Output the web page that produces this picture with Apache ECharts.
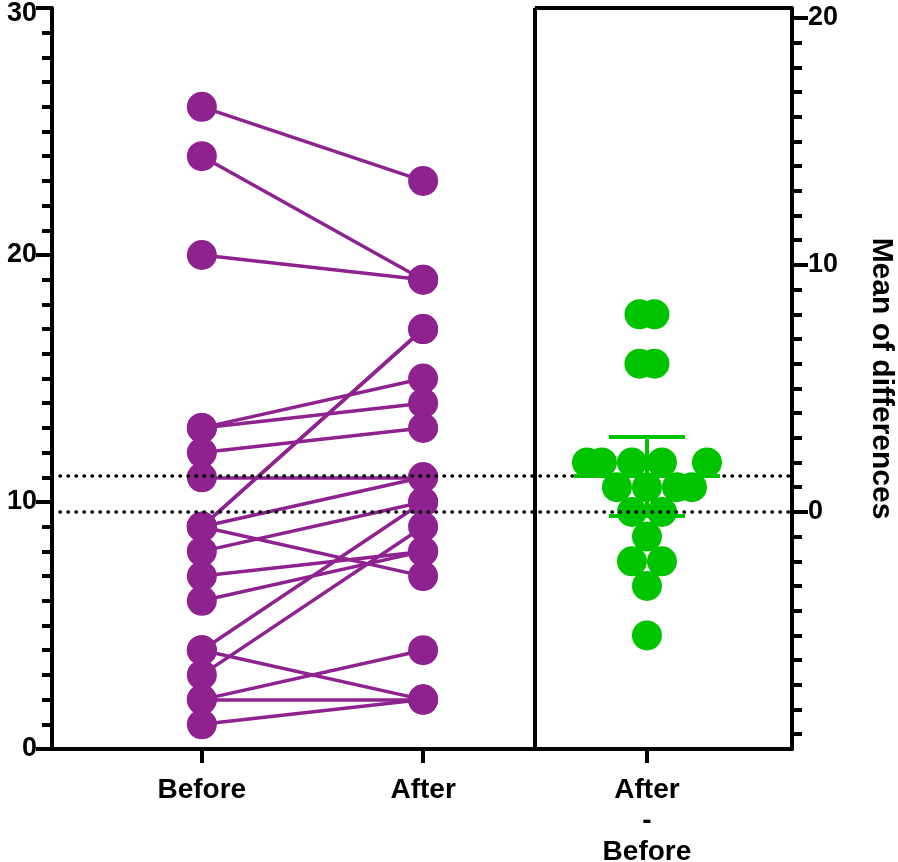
<!DOCTYPE html>
<html>
<head>
<meta charset="utf-8">
<script src="https://cdn.jsdelivr.net/npm/echarts@6/dist/echarts.min.js"></script>
<style>
  html, body { margin: 0; padding: 0; background: #fff; }
  #main { width: 898px; height: 862px; }
</style>
</head>
<body>
<div id="main"></div>
<script>
// data (one entry per subject, paired)
var categories = ['Before', 'After', 'After\n-\nBefore'];
var before = [26, 24, 20, 13, 13, 12, 11, 9, 9, 9, 9, 8, 7, 6, 4, 4, 3, 2, 2, 1];
var after  = [23, 19, 19, 15, 14, 13, 11, 17, 17, 11, 7, 10, 8, 8, 10, 2, 9, 4, 2, 2];
var leftTicks = [0, 10, 20, 30];
var rightTicks = [0, 10, 20];

// layout
var W = 898, H = 862;
var G = { left: 52, right: 106, top: 8, bottom: 113 };
var X_MAX = 20;
var xSlots = [4.05, 10.03, 16.08];   // Before, After, After-Before
var xDivider = 13.05;
var purple = '#8e228f';
var green = '#00c400';
var font = 'Liberation Sans';

// statistics
function mean(a) { return a.reduce(function (s, v) { return s + v; }, 0) / a.length; }
var diffs = after.map(function (v, i) { return v - before[i]; });
var meanBefore = mean(before);
var meanAfter = mean(after);
var meanDiff = mean(diffs);
var sd = Math.sqrt(diffs.reduce(function (s, v) { return s + (v - meanDiff) * (v - meanDiff); }, 0) / (diffs.length - 1));
var T_CRIT = 2.093; // t(0.975, df=19)
var half = T_CRIT * sd / Math.sqrt(diffs.length);
var ciLo = meanDiff - half, ciHi = meanDiff + half;

// simple beeswarm for the differences (pixel distances)
var pxX = (W - G.left - G.right) / X_MAX;
var pxY = (H - G.top - G.bottom) / 30;
function swarm(vals) {
  var S = 15, D = 28, step = 7.5;
  var placed = [];
  var groups = {};
  vals.forEach(function (v) { groups[v] = (groups[v] || 0) + 1; });
  var keys = Object.keys(groups).map(Number).sort(function (a, b) { return a - b; });
  function ok(x, v, mine) {
    for (var i = 0; i < placed.length; i++) {
      var p = placed[i];
      if (p.v === v) continue;
      var dx = x - p.x, dy = (v - p.v) * pxY;
      if (dx * dx + dy * dy < D * D) return false;
    }
    for (var j = 0; j < mine.length; j++) if (Math.abs(mine[j] - x) < S - 0.01) return false;
    return true;
  }
  keys.forEach(function (v) {
    var k = groups[v], mine = [];
    var sym = [];
    for (var j = 0; j < k; j++) sym.push((j - (k - 1) / 2) * S);
    var symOk = sym.every(function (x) { return ok(x, v, []); });
    if (symOk) {
      mine = sym;
    } else {
      for (var n = 0; mine.length < k && n < 60; n++) {
        var c = n === 0 ? 0 : (n % 2 ? 1 : -1) * Math.ceil(n / 2) * step;
        if (ok(c, v, mine)) mine.push(c);
      }
    }
    mine.forEach(function (x) { placed.push({ x: x, v: v }); });
  });
  var used = {};
  return vals.map(function (v) {
    var list = placed.filter(function (p) { return p.v === v; });
    used[v] = (used[v] || 0);
    var p = list[used[v]++];
    return [xSlots[2] + p.x / pxX, v];
  });
}

var chart = echarts.init(document.getElementById('main'));

var axisLine = { show: true, onZero: false, lineStyle: { color: '#000', width: 4 } };
var labelStyle = { color: '#000', fontFamily: font, fontWeight: 'bold', fontSize: 28 };
var tickStyle = { color: '#000', width: 4 };

var pairLines = before.map(function (b, i) {
  return { coords: [[xSlots[0], b], [xSlots[1], after[i]]] };
});
var purpleDots = before.map(function (v) { return [xSlots[0], v]; })
  .concat(after.map(function (v) { return [xSlots[1], v]; }));

var capW = 38 / pxX, meanW = 73 / pxX;

chart.setOption({
  animation: false,
  grid: { left: G.left, right: G.right, top: G.top, bottom: G.bottom, outerBoundsMode: 'none', containLabel: false },
  xAxis: [{
    type: 'value', min: 0, max: X_MAX,
    axisLine: axisLine,
    axisTick: { show: true, customValues: xSlots, length: 14, lineStyle: tickStyle },
    axisLabel: Object.assign({
      customValues: xSlots, margin: 26, lineHeight: 31,
      formatter: function (v) { return categories[xSlots.indexOf(v)] || ''; }
    }, labelStyle),
    splitLine: { show: false }
  }],
  yAxis: [{
    type: 'value', position: 'left', min: 0, max: 30, interval: 10,
    axisLine: axisLine,
    axisTick: { show: true, length: 16, lineStyle: tickStyle },
    minorTick: { show: true, splitNumber: 10, length: 10, lineStyle: tickStyle },
    axisLabel: Object.assign({
      margin: 15, customValues: leftTicks,
      formatter: function (v) { return v === 30 ? '{top|30}' : String(v); },
      rich: { top: { fontFamily: font, fontWeight: 'bold', fontSize: 27, color: '#000', padding: [12, 0, 0, 0] } }
    }, labelStyle, { fontSize: 27 }),
    splitLine: { show: false }
  }, {
    type: 'value', position: 'right', min: -meanBefore, max: 30 - meanBefore, splitNumber: 3,
    axisLine: axisLine,
    axisTick: { show: true, customValues: rightTicks, length: 16, lineStyle: tickStyle },
    minorTick: { show: true, splitNumber: 10, length: 10, lineStyle: tickStyle },
    axisLabel: Object.assign({ margin: 16, customValues: rightTicks }, labelStyle, { fontSize: 27 }),
    splitLine: { show: false },
    name: 'Mean of differences', nameLocation: 'middle', nameRotate: -90, nameGap: 74,
    nameTextStyle: { color: '#000', fontFamily: font, fontWeight: 'bold', fontSize: 30 }
  }],
  series: [{
    type: 'lines', coordinateSystem: 'cartesian2d', z: 2, silent: true,
    data: pairLines,
    lineStyle: { color: purple, width: 3.5, opacity: 1 }
  }, {
    type: 'line', data: [], z: 3, silent: true,
    markLine: {
      silent: true, symbol: ['none', 'none'], label: { show: false },
      lineStyle: { color: '#000', width: 3.5, type: [0.5, 7.5], cap: 'round' },
      data: [
        { yAxis: meanBefore },
        { yAxis: meanAfter },
        { xAxis: xDivider, lineStyle: { type: 'solid', width: 4, cap: 'butt' } },
        [{ coord: [xDivider, 30], lineStyle: { type: 'solid', width: 4, cap: 'butt' } }, { coord: [X_MAX, 30] }]
      ]
    }
  }, {
    type: 'scatter', z: 4, silent: true,
    data: purpleDots, symbolSize: 30,
    itemStyle: { color: purple, opacity: 1 }
  }, {
    type: 'scatter', yAxisIndex: 1, z: 4, silent: true,
    data: swarm(diffs), symbolSize: 30,
    itemStyle: { color: green, opacity: 1 },
    markLine: {
      silent: true, symbol: ['none', 'none'], label: { show: false },
      lineStyle: { color: green, width: 4, type: 'solid' },
      data: [
        [{ coord: [xSlots[2], ciLo] }, { coord: [xSlots[2], ciHi] }],
        [{ coord: [xSlots[2] - capW, ciHi] }, { coord: [xSlots[2] + capW, ciHi] }],
        [{ coord: [xSlots[2] - capW, ciLo] }, { coord: [xSlots[2] + capW, ciLo] }],
        [{ coord: [xSlots[2] - meanW, meanDiff] }, { coord: [xSlots[2] + meanW, meanDiff] }]
      ]
    }
  }]
});
</script>
</body>
</html>
